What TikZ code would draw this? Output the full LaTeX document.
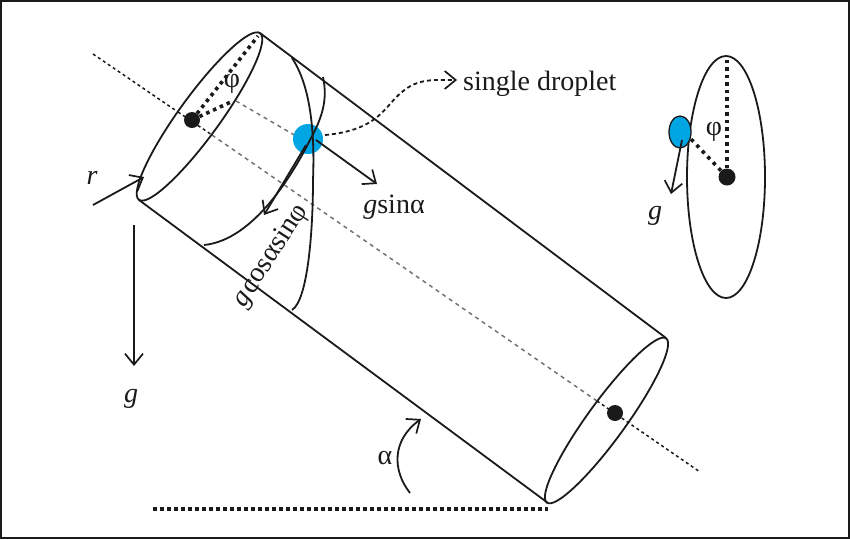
\documentclass[tikz,border=0pt]{standalone}
\usepackage{fontspec}
\setmainfont{Liberation Serif}
\usetikzlibrary{arrows.meta,shapes.geometric}
\definecolor{dropblue}{HTML}{00A6E4}
\definecolor{ink}{HTML}{1A1A1A}
\tikzset{
  every node/.style={font=\fontsize{28}{30}\selectfont,text=ink,inner sep=0pt},
  ln/.style={draw=ink,line width=1.8pt},
  arr/.style={ln,-{Straight Barb[length=11pt,width=18pt,line width=1.7pt]}},
  axisblack/.style={draw=ink,line width=1.5pt,dash pattern=on 3pt off 3pt},
  axisgray/.style={draw=black!55,line width=1.5pt,dash pattern=on 4pt off 4pt},
  thickdot/.style={draw=ink,line width=3.6pt,dash pattern=on 3.5pt off 4pt},
  hub/.style={circle,fill=ink,minimum size=16pt},
  drop/.style={ellipse,fill=dropblue},
}
\begin{document}
\begin{tikzpicture}[x=1pt,y=-1pt]
\useasboundingbox (0,0) rectangle (850,539);
\draw[ink,line width=2pt] (1,1) rectangle (849,538);
% named points
\coordinate (axA) at (93,54);
\coordinate (axB) at (178,112);
\coordinate (axC) at (212,135);
\coordinate (axD) at (597,401);
\coordinate (axF) at (700,472);
\coordinate (tl) at (260,33);
\coordinate (bl) at (139,200);
\coordinate (tr) at (666,338);
\coordinate (br) at (548,503);
% axis
\draw[axisblack] (axA) -- (axB);
\draw[axisblack] (axB) -- (axC);
\draw[axisgray] (axC) -- (axD);
\draw[axisblack] (axD) -- (axF);
\draw[axisgray] (236,101) -- (296,136);
% droplet
\node[drop,minimum width=30pt,minimum height=30pt] (d1) at (308,139) {};
% cylinder
\draw[ln] (tl) -- (tr);
\draw[ln] (bl) -- (br);
\draw[ln,rotate around={54:(199.5,116.5)}] (199.5,116.5) ellipse (103 and 20.5);
\draw[ln,rotate around={54:(606.5,420.5)}] (606.5,420.5) ellipse (101.5 and 19);
% spiral trace
\draw[ln] (204,245) .. controls (255,240) and (295,170) .. (310,140)
  .. controls (322,118) and (328,100) .. (323,77);
\draw[ln] (292,58) .. controls (310,85) and (315,130) .. (313,180)
  .. controls (313,230) and (308,300) .. (292,310);
% hubs
\node[hub] (h1) at (192,120) {};
\node[hub] (h2) at (615,413) {};
\coordinate (pt1) at (258,36);
\coordinate (pt2) at (233,101);
\draw[thickdot] (h1) -- (pt1);
\draw[thickdot] (h1) -- (pt2);
\node (phi1) at (232,84) {φ};
% arrows
\coordinate (rs) at (93,205);
\coordinate (re) at (144,177);
\draw[arr] (rs) -- (re);
\node (r) at (92,178) {\itshape r};
\coordinate (gs) at (134,225);
\coordinate (ge) at (134,366);
\draw[arr] (gs) -- (ge);
\node (g) at (131,399) {\itshape g};
\coordinate (sa) at (316,140);
\coordinate (sb) at (377,184);
\draw[arr] (sa) -- (sb);
\node (gsin) at (394,207) {\textit{g}sinα};
\coordinate (ca) at (306,145);
\coordinate (cb) at (264,215);
\draw[arr] (ca) -- (cb);
\node[rotate=57] (gcos) at (271,256) {\textit{g}\kern1.5pt cosαsinφ};
% single droplet
\node[anchor=west] (sd) at (463,84) {single droplet};
\draw[arr,dash pattern=on 4pt off 3pt] (325,135)
  .. controls (380,130) and (385,105) .. (402,92)
  .. controls (418,78) and (435,80) .. (457,80);
% alpha
\coordinate (aa) at (410,493);
\coordinate (ab) at (421,419);
\draw[arr] (aa) .. controls (392,470) and (392,440) .. (ab);
\node (alpha) at (385,458) {α};
\coordinate (b1) at (153,509);
\coordinate (b2) at (548,509);
\draw[draw=ink,line width=3.2pt,dash pattern=on 3.5pt off 3.5pt] (b1) -- (b2);
% side view
\draw[ln] (726,177) ellipse (39 and 121);
\node[hub,minimum size=17pt] (h3) at (727,177) {};
\coordinate (top) at (727,57);
\coordinate (dp) at (689,137);
\draw[thickdot] (h3) -- (top);
\draw[thickdot,dash pattern=on 3.5pt off 4.5pt] (h3) -- (dp);
\node[drop,draw=ink,line width=1.3pt,minimum width=22pt,minimum height=32pt] (d2) at (680,132) {};
\coordinate (ga) at (682,140);
\coordinate (gb) at (671,194);
\draw[arr] (ga) -- (gb);
\node (g2) at (655,216) {\itshape g};
\node (phi2) at (714,132) {φ};
\end{tikzpicture}
\end{document}
